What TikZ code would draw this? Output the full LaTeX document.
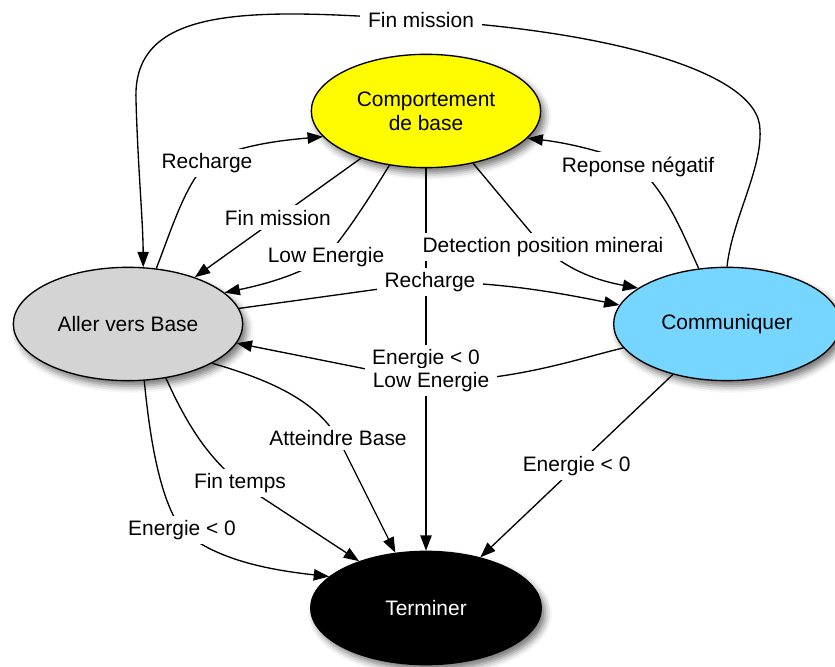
\documentclass[tikz,border=0pt]{standalone}
\usepackage{fontspec}
\setmainfont{Liberation Sans}
\usetikzlibrary{arrows.meta,shapes.geometric,shadows.blur}
\definecolor{StateYellow}{HTML}{FFFB00}
\definecolor{StateGray}{HTML}{D4D4D4}
\definecolor{StateBlue}{HTML}{76D6FF}
\tikzset{
  state/.style={ellipse,draw=black,line width=1pt,inner sep=0pt,minimum width=172pt,minimum height=85pt,align=center,
    blur shadow={shadow xshift=3pt,shadow yshift=-4pt,shadow blur radius=5pt,shadow opacity=55}},
  stateyellow/.style={state,fill=StateYellow},
  stategray/.style={state,fill=StateGray},
  stateblue/.style={state,fill=StateBlue,minimum width=170pt},
  stateblack/.style={state,fill=black,text=white,minimum width=173pt},
  arrow/.style={-{Triangle[length=11.5pt,width=8.5pt]},line width=1pt},
  lbl/.style={fill=white,inner xsep=6pt,inner ysep=3.5pt}
}
\begin{document}
\begin{tikzpicture}[x=.75pt,y=-.75pt,font=\fontsize{15.7}{18}\selectfont]
\useasboundingbox (0,0) rectangle (835,667);
% states
\node[stateyellow] (base) at (426,111) {Comportement\\de base};
\node[stategray] (aller) at (128,324) {Aller vers Base};
\node[stateblue] (comm) at (727,324) {Communiquer};
\node[stateblack] (term) at (426,608) {Terminer};
% transitions
\draw[arrow] (base) -- node[lbl] (lEnergieBase) {Energie < 0} (term);
\draw[arrow] (comm.north) .. controls (732,220) and (762,170) .. (760,130)
  .. controls (760,70) and (600,30) .. (421,20) node[lbl] (lFinMissionTop) {Fin mission}
  .. controls (250,8) and (132,5) .. (136,100)
  .. controls (138,170) and (143,220) .. (aller.75);
\draw[arrow] (aller.63) .. controls (172,228) and (185,185) .. (207,163) node[lbl] (lRechargeBase) {Recharge}
  .. controls (235,145) and (285,140) .. (base.194);
\draw[arrow] (base.216) -- node[lbl] (lFinMission) {Fin mission} (aller.35);
\draw[arrow] (base.236) .. controls (365,205) and (345,235) .. (326,257) node[lbl] (lLowBase) {Low Energie}
  .. controls (300,275) and (262,285) .. (aller.18);
\draw[arrow] (base.312) -- (543,247) node[lbl] (lDetection) {Detection position minerai}
  .. controls (570,272) and (600,281) .. (comm.158);
\draw[arrow] (aller.8) -- (430,282) node[lbl] (lRechargeComm) {Recharge}
  .. controls (500,282) and (560,293) .. (comm.170);
\draw[arrow] (comm.117) .. controls (682,232) and (668,195) .. (638,167) node[lbl] (lReponse) {Reponse négatif}
  .. controls (605,150) and (560,142) .. (base.345);
\draw[arrow] (comm.193) .. controls (580,358) and (520,380) .. (431,382) node[lbl] (lLowComm) {Low Energie}
  -- (aller.350);
\draw[arrow] (aller.335) .. controls (270,380) and (315,400) .. (338,438) node[lbl] (lAtteindre) {Atteindre Base}
  -- (term.119);
\draw[arrow] (aller.305) .. controls (185,420) and (205,455) .. (240,483) node[lbl] (lFinTemps) {Fin temps}
  -- (term.145);
\draw[arrow] (aller.286) .. controls (150,440) and (160,500) .. (182,530) node[lbl] (lEnergieAller) {Energie < 0}
  .. controls (215,560) and (270,570) .. (term.162);
\draw[arrow] (comm.223) -- node[lbl] (lEnergieComm) {Energie < 0} (term.43);
\end{tikzpicture}
\end{document}
